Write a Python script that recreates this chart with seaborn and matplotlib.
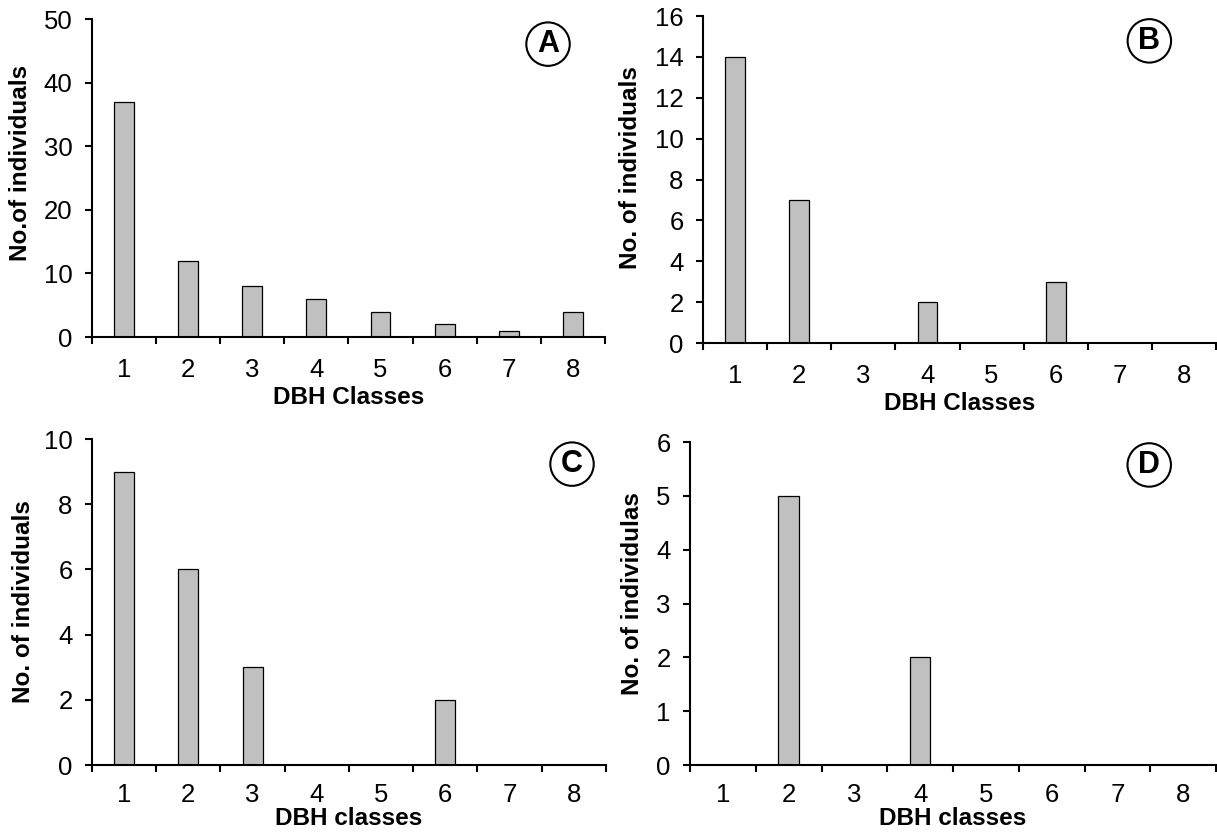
import numpy as np
import pandas as pd
import matplotlib
matplotlib.use("Agg")
import matplotlib.pyplot as plt
import seaborn as sns

classes = ["1", "2", "3", "4", "5", "6", "7", "8"]
counts_a = [37, 12, 8, 6, 4, 2, 1, 4]
counts_b = [14, 7, 0, 2, 0, 3, 0, 0]
counts_c = [9, 6, 3, 0, 0, 2, 0, 0]
counts_d = [0, 5, 0, 2, 0, 0, 0, 0]

panel_letters = ["A", "B", "C", "D"]
y_labels = ["No.of individuals", "No. of individuals", "No. of individuals", "No. of individulas"]
x_labels = ["DBH Classes", "DBH Classes", "DBH classes", "DBH classes"]
y_max = [50, 16, 10, 6]
y_step = [10, 2, 2, 1]


def draw_panel(ax, counts, letter, ylab, xlab, ymax, ystep, letter_pos, ylab_pos,
               xpad, xlabpad):
    df = pd.DataFrame({"cls": classes, "n": counts})
    sns.barplot(data=df, x="cls", y="n", color="#C0C0C0", saturation=1,
                edgecolor="black", linewidth=0.9, width=0.31, ax=ax)
    ax.set_xlim(-0.5, len(classes) - 0.5)
    ax.set_ylim(0, ymax)
    ax.set_yticks(np.arange(0, ymax + ystep / 2, ystep))
    # tick marks between the classes, labels under the bars
    ax.set_xticks(np.arange(-0.5, len(classes), 1.0))
    ax.set_xticklabels([])
    ax.set_xticks(np.arange(len(classes)), minor=True)
    ax.set_xticklabels(classes, minor=True)
    ax.tick_params(axis="x", which="major", bottom=True, direction="out",
                   length=5, width=1.5, color="black")
    ax.tick_params(axis="x", which="minor", bottom=True, length=0, pad=xpad,
                   labelsize=18.5, labelcolor="black")
    ax.tick_params(axis="y", left=True, direction="out", length=5, width=1.5,
                   color="black", pad=9, labelsize=18.5, labelcolor="black")
    for s in ["top", "right"]:
        ax.spines[s].set_visible(False)
    for s in ["left", "bottom"]:
        ax.spines[s].set_linewidth(1.5)
        ax.spines[s].set_color("black")
    ax.set_xlabel(xlab, fontsize=17.5, fontweight="bold", labelpad=xlabpad, color="black")
    ax.set_ylabel(ylab, fontsize=17.5, fontweight="bold", color="black")
    ax.yaxis.set_label_coords(ylab_pos[0], ylab_pos[1])
    ax.text(letter_pos[0], letter_pos[1], letter, transform=ax.transAxes,
            ha="center", va="center", fontsize=22, fontweight="bold", color="black",
            bbox=dict(boxstyle="circle,pad=0.22", fc="white", ec="black", lw=1.5))


def main():
    sns.set_style("white")
    plt.rcParams["font.family"] = ["Liberation Sans", "DejaVu Sans"]
    plt.rcParams["text.color"] = "black"
    plt.rcParams["axes.labelcolor"] = "black"
    fig = plt.figure(figsize=(12.17, 8.34), dpi=100)

    boxes = [
        [0.0756, 0.5959, 0.4215, 0.3813],
        [0.5777, 0.5887, 0.4215, 0.3921],
        [0.0756, 0.0827, 0.4223, 0.3909],
        [0.5670, 0.0827, 0.4322, 0.3873],
    ]
    letter_xy = [(0.889, 0.921), (0.870, 0.924), (0.934, 0.923), (0.873, 0.929)]
    ylab_xy = [(-0.117, 0.546), (-0.119, 0.536), (-0.111, 0.50), (-0.088, 0.532)]
    x_pads = [(15, 3), (15, 3), (13, 0), (13, 0)]
    all_counts = [counts_a, counts_b, counts_c, counts_d]

    for i in range(4):
        ax = fig.add_axes(boxes[i])
        draw_panel(ax, all_counts[i], panel_letters[i], y_labels[i], x_labels[i],
                   y_max[i], y_step[i], letter_xy[i], ylab_xy[i],
                   x_pads[i][0], x_pads[i][1])

    fig.savefig("out.png", dpi=100)


if __name__ == "__main__":
    main()
